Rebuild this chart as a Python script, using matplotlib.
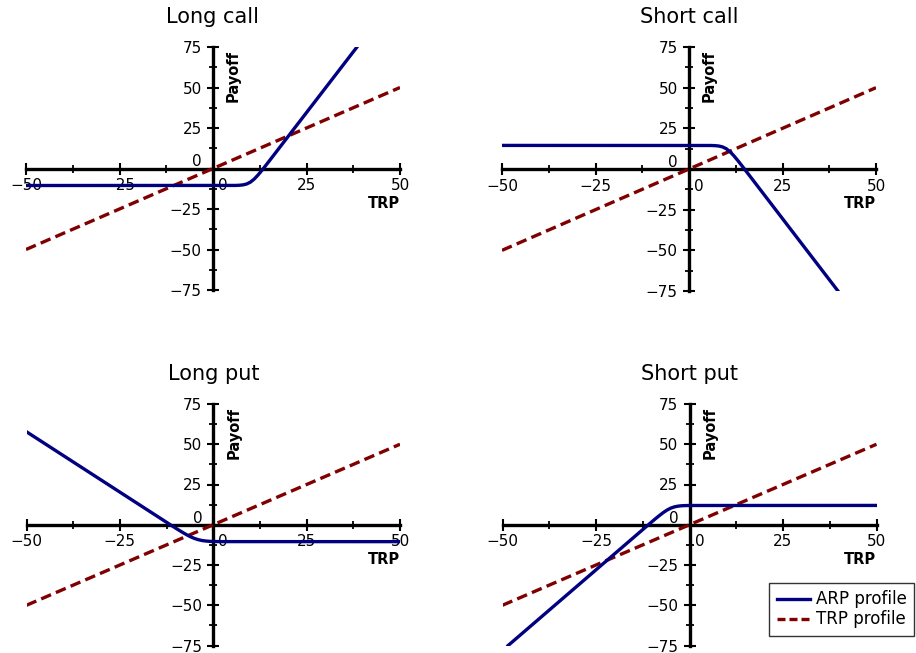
import matplotlib
matplotlib.use("Agg")
import matplotlib.pyplot as plt
from matplotlib.transforms import ScaledTranslation
from matplotlib.lines import Line2D

plt.rcParams['font.family'] = ['DejaVu Sans']

# ---- data ----
titles = ["Long call", "Short call", "Long put", "Short put"]

trp_x = [-50, 50]
trp_y = [-50, 50]

long_call_x = [-50, 6, 7, 8, 9, 10, 11, 12, 13, 14, 15, 38.5]
long_call_y = [-10.5, -10.45, -10.35, -10.12, -9.56, -8.42, -6.56, -4.12, -1.35, 1.55, 4.52, 75]

short_call_x = [-50, 6, 7, 8, 9, 10, 11, 12, 13, 14, 15, 40]
short_call_y = [14.5, 14.45, 14.35, 14.12, 13.56, 12.42, 10.56, 8.12, 5.35, 2.45, -0.52, -75.5]

long_put_x = [-50, -12, -10, -9, -8, -7, -6, -5, -4, -3, -2, -1, 0, 2, 50]
long_put_y = [57.75, 0.77, -2.2, -3.64, -5.04, -6.36, -7.55, -8.53, -9.28, -9.8, -10.11, -10.29, -10.39, -10.47, -10.5]

short_put_x = [-48.5, -12, -10, -9, -8, -7, -6, -5, -4, -3, -2, -1, 0, 50]
short_put_y = [-75, -2.01, 1.96, 3.92, 5.81, 7.59, 9.13, 10.34, 11.13, 11.58, 11.81, 11.92, 11.96, 12]

arp_series = [(long_call_x, long_call_y), (short_call_x, short_call_y),
              (long_put_x, long_put_y), (short_put_x, short_put_y)]

x_ticks = [-50, -25, 0, 25, 50]
x_minor = [-37.5, -12.5, 12.5, 37.5]
y_ticks = [-75, -50, -25, 0, 25, 50, 75]
y_minor = [-62.5, -37.5, -12.5, 12.5, 37.5, 62.5]

legend_labels = ["ARP profile", "TRP profile"]

ARP_COLOR = "#000080"
TRP_COLOR = "#800000"

W, H = 916, 653
fig = plt.figure(figsize=(W / 100, H / 100), dpi=100)

# axes boxes in pixels: (left, right, top, bottom)
boxes = [(26, 400, 47, 290), (502, 876, 47, 291),
         (26.5, 400, 404, 645.5), (502.5, 876.5, 404, 645.5)]

for title, (ax_x, ax_y), box in zip(titles, arp_series, boxes):
    l, r, t, b = box
    ax = fig.add_axes([l / W, 1 - b / H, (r - l) / W, (b - t) / H])
    ax.set_xlim(-50, 50)
    ax.set_ylim(-75, 75)
    ax.patch.set_visible(False)
    for s in ['top', 'right']:
        ax.spines[s].set_visible(False)
    ax.spines['left'].set_position('zero')
    ax.spines['bottom'].set_position('zero')
    for s in ['left', 'bottom']:
        ax.spines[s].set_linewidth(2.4)
        ax.spines[s].set_color('black')
        ax.spines[s].set_zorder(1)

    ax.set_xticks(x_ticks)
    ax.set_xticks(x_minor, minor=True)
    ax.set_yticks(y_ticks)
    ax.set_yticks(y_minor, minor=True)
    ax.set_xticklabels([str(v).replace('-', '\u2212') for v in x_ticks])
    ax.set_yticklabels([str(v).replace('-', '\u2212') for v in y_ticks])
    ax.tick_params(which='major', direction='inout', length=8, width=1.5,
                   labelsize=11, colors='black')
    ax.tick_params(which='minor', direction='inout', length=6, width=1.3)
    ax.tick_params(axis='x', which='major', pad=3)
    ax.tick_params(axis='y', which='major', pad=4)

    # shift zero labels like the reference
    for lab, v in zip(ax.get_xticklabels(), x_ticks):
        if v == 0:
            lab.set_transform(lab.get_transform() + ScaledTranslation(0.10, 0, fig.dpi_scale_trans))
    for lab, v in zip(ax.get_yticklabels(), y_ticks):
        if v == 0:
            lab.set_transform(lab.get_transform() + ScaledTranslation(0.0, 0.08, fig.dpi_scale_trans))

    ax.plot(trp_x, trp_y, color=TRP_COLOR, lw=2.4, dashes=(3.2, 1.6), zorder=3,
            solid_capstyle='butt')
    ax.plot(ax_x, ax_y, color=ARP_COLOR, lw=2.4, zorder=4, solid_joinstyle='round')

    ax.text(0.5, 1.0 + 30 / (b - t), title, transform=ax.transAxes,
            ha='center', va='center', fontsize=15)
    ax.text(5.5, 57, "Payoff", rotation=90, ha='center', va='center',
            fontsize=10.5, fontweight='bold')
    ax.text(50, -21.5, "TRP", ha='right', va='center', fontsize=10.5, fontweight='bold')

handles = [Line2D([], [], color=ARP_COLOR, lw=2.4),
           Line2D([], [], color=TRP_COLOR, lw=2.4, dashes=(2.4, 1.2))]
leg = fig.legend(handles, legend_labels, loc='upper left',
                 bbox_to_anchor=(769 / W, 1 - 583 / H), fontsize=12,
                 frameon=True, fancybox=False, edgecolor='black',
                 handlelength=2.0, handletextpad=0.35, borderpad=0.45,
                 labelspacing=0.12, borderaxespad=0)
leg.get_frame().set_linewidth(1.0)

fig.savefig("out.png", dpi=100)
